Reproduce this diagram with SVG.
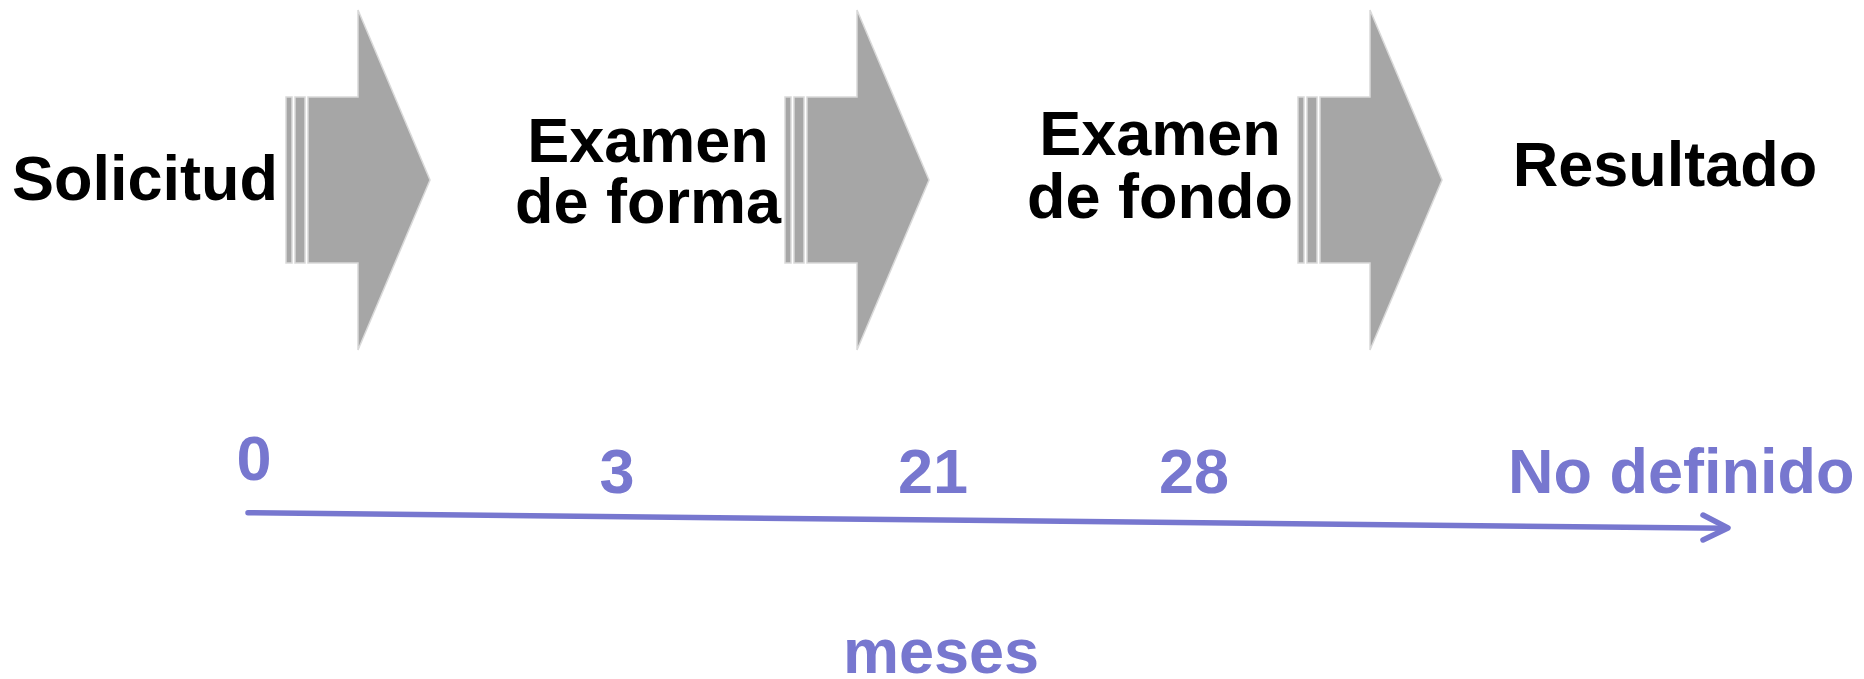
<svg xmlns="http://www.w3.org/2000/svg" width="1864" height="679" viewBox="0 0 1864 679">
<defs>
<style>
.blk{fill:#a6a6a6;stroke:#d9d9d9;stroke-width:1.5}
.lbl{font-family:"Liberation Sans",Arial,sans-serif;font-weight:bold;font-size:63px;fill:#000}
.num{font-family:"Liberation Sans",Arial,sans-serif;font-weight:bold;font-size:63px;fill:#7777cf}
.tl{stroke:#7777cf;stroke-width:5.5;fill:none;stroke-linecap:round;stroke-linejoin:round}
</style>
<g id="shape">
<rect class="blk" x="0" y="97" width="6" height="166"/>
<rect class="blk" x="9" y="97" width="10" height="166"/>
<polygon class="blk" points="22,97 72,97 72,10 144,180 72,350 72,263 22,263"/>
</g>
</defs>
<rect width="1864" height="679" fill="#fff"/>
<g id="arrow1"><use href="#shape" x="286"/></g>
<g id="arrow2"><use href="#shape" x="785"/></g>
<g id="arrow3"><use href="#shape" x="1298"/></g>
<g id="solicitud"><text class="lbl" x="12" y="200">Solicitud</text></g>
<g id="examen-forma"><text class="lbl" x="648" y="162" text-anchor="middle">Examen</text><text class="lbl" x="648" y="223" text-anchor="middle">de forma</text></g>
<g id="examen-fondo"><text class="lbl" x="1160" y="155" text-anchor="middle">Examen</text><text class="lbl" x="1160" y="218" text-anchor="middle">de fondo</text></g>
<g id="resultado"><text class="lbl" x="1665" y="186" text-anchor="middle">Resultado</text></g>
<g id="connectors">
<line class="tl" x1="248" y1="512.7" x2="1726" y2="528.3"/>
<polyline class="tl" points="1703,515 1728,528 1703,540"/>
</g>
<g id="labels">
<text class="num" x="254" y="480" text-anchor="middle">0</text>
<text class="num" x="617" y="493" text-anchor="middle">3</text>
<text class="num" x="933" y="493" text-anchor="middle">21</text>
<text class="num" x="1194" y="493" text-anchor="middle">28</text>
<text class="num" x="1508" y="493">No definido</text>
<text class="num" x="941" y="673" text-anchor="middle">meses</text>
</g>
</svg>
